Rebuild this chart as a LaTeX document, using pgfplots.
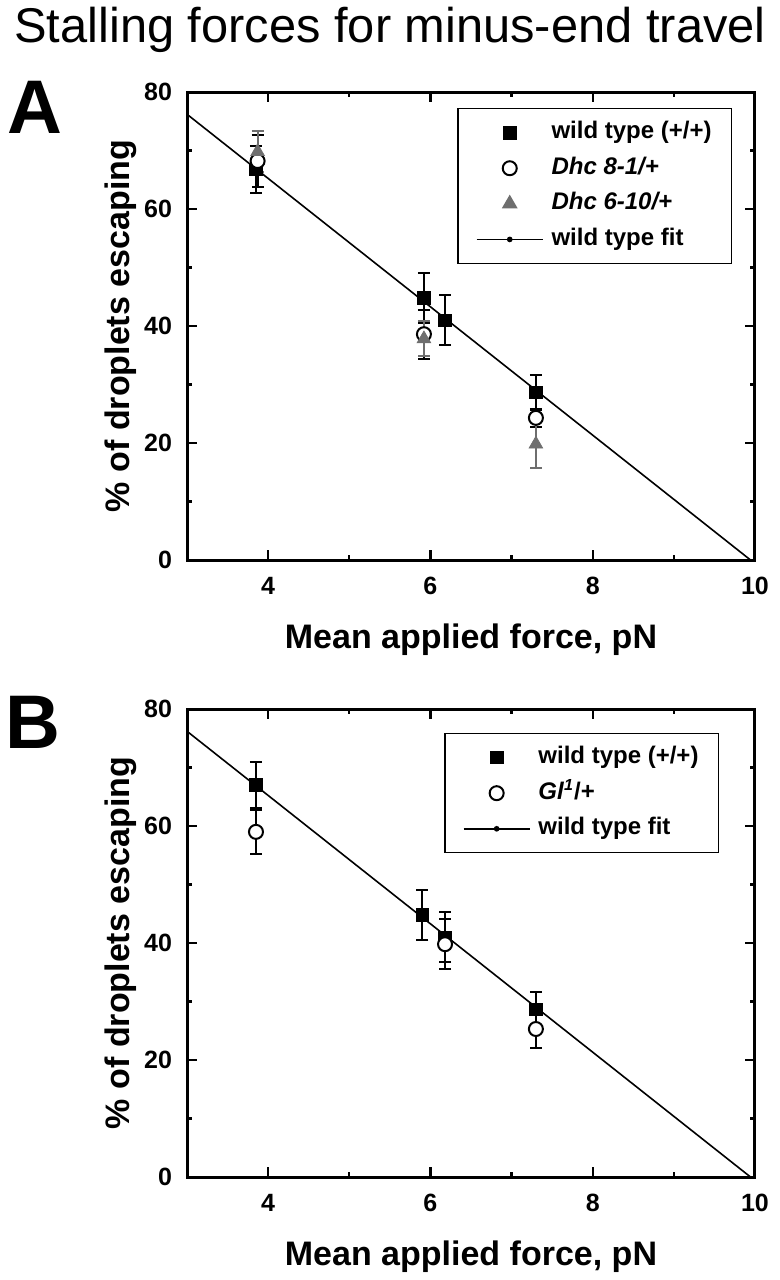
\documentclass[border=0pt]{standalone}
\usepackage{fontspec}
\setmainfont{Liberation Sans}
\usepackage{pgfplots}
\pgfplotsset{compat=1.18}
\definecolor{tri}{HTML}{6E6E6E}

\pgfplotsset{
  panel/.style={
    scale only axis, width=284pt, height=234pt, anchor=south west,
    xmin=3, xmax=10, ymin=0, ymax=80,
    xtick={4,6,8,10}, ytick={0,20,40,60,80},
    minor x tick num=1, minor y tick num=1,
    tick align=inside, major tick length=5pt, minor tick length=2.5pt,
    axis line style={line width=1.5pt},
    every tick/.append style={black, line width=1.1pt},
    ticklabel style={font=\bfseries\fontsize{12.5}{14}\selectfont},
    /pgf/number format/assume math mode=true,
    xticklabel style={yshift=-5pt},
    yticklabel style={xshift=-4pt},
    xlabel={Mean applied force, pN},
    ylabel={\% of droplets escaping},
    label style={font=\bfseries\fontsize{17}{20}\selectfont},
    xlabel style={at={(axis description cs:0.5,-0.17)}, anchor=center},
    ylabel style={at={(axis description cs:-0.116,0.5)}, anchor=center},
    legend cell align=left,
    legend style={draw=black, line width=0.7pt,
      font=\bfseries\fontsize{12}{14}\selectfont,
      inner xsep=9pt, inner ysep=5pt, row sep=3.8pt, column sep=3pt,
      nodes={inner sep=1pt, text height=9pt, text depth=3pt}},
    legend image code/.code={\draw[mark repeat=2,mark phase=2,##1]
      plot coordinates {(0pt,0pt) (16.5pt,0pt) (33pt,0pt)};},
  },
  errs/.style={error bars/.cd, y dir=both, y explicit,
    error bar style={line width=1pt, #1},
    error mark options={rotate=90, mark size=3pt, line width=1pt, #1}},
  wt/.style={only marks, mark=square*, mark size=3.1pt, black, errs=black},
  circ/.style={only marks, mark=*, mark size=3.5pt,
    mark options={fill=white, draw=black, line width=1pt}, black, errs=black},
  trig/.style={only marks, mark=triangle*, mark size=3.9pt, tri, errs=tri},
  fit/.style={black, line width=0.8pt},
  fitleg/.style={black, line width=0.8pt,
    legend image code/.code={\draw[##1] (0pt,0pt)--(33pt,0pt);
      \fill (16.5pt,0pt) circle (1pt);}},
}

\begin{document}
\begin{tikzpicture}
\useasboundingbox (0,0) rectangle (390pt,-640pt);
\node[font=\fontsize{24.4}{28}\selectfont] at (195pt,-15pt)
  {Stalling forces for minus-end travel};
\node[font=\bfseries\fontsize{38}{40}\selectfont] at (17.5pt,-53.5pt) {A};
\node[font=\bfseries\fontsize{38}{40}\selectfont] at (16.5pt,-361pt) {B};

% panel A
\begin{axis}[panel, at={(93.5pt,-280pt)},
  legend style={at={(0.96,0.966)}, anchor=north east}]
  \addplot[fit, forget plot] coordinates {(3,76.2) (9.945,0)};
  \addplot[wt] table[y error=e] {
    x y e
    3.85 66.8 4.0
    5.92 44.8 4.3
    6.18 41.0 4.3
    7.30 28.7 3.0
  };
  \addlegendentry{wild type (+/+)}
  \addplot[circ] table[y error=e] {
    x y e
    3.87 68.2 4.5
    5.92 38.6 4.2
    7.30 24.3 1.5
  };
  \addlegendentry{\textit{Dhc 8-1/+}}
  \addplot[trig] table[y error=e] {
    x y e
    3.87 69.8 3.5
    5.92 37.8 3.0
    7.30 19.8 4.0
  };
  \addlegendentry{\textit{Dhc 6-10/+}}
  \addlegendimage{fitleg}
  \addlegendentry{wild type fit}
\end{axis}

% panel B
\begin{axis}[panel, at={(93.5pt,-588.5pt)},
  legend style={at={(0.937,0.949)}, anchor=north east}]
  \addplot[fit, forget plot] coordinates {(3,76.2) (9.945,0)};
  \addplot[wt] table[y error=e] {
    x y e
    3.85 67.0 4.0
    5.90 44.8 4.3
    6.18 41.0 4.3
    7.30 28.7 3.0
  };
  \addlegendentry{wild type (+/+)}
  \addplot[circ] table[y error=e] {
    x y e
    3.85 59.0 3.8
    6.18 39.8 4.3
    7.30 25.3 3.3
  };
  \addlegendentry{\textit{Gl}\textsuperscript{\textit{1}}/+}
  \addlegendimage{fitleg}
  \addlegendentry{wild type fit}
\end{axis}
\end{tikzpicture}
\end{document}
